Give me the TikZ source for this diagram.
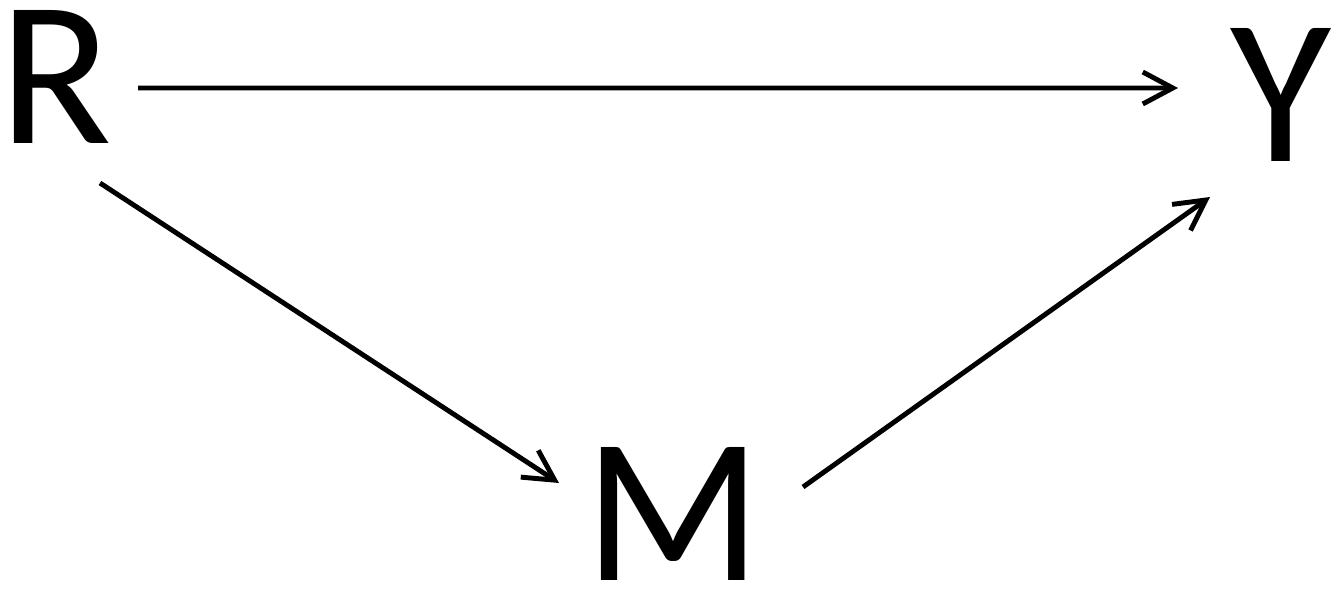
\documentclass[tikz,border=0pt]{standalone}
\usepackage{fontspec}
\setmainfont{Carlito}
\usetikzlibrary{arrows.meta,calc}
\begin{document}
\begin{tikzpicture}[
  lbl/.style={inner sep=0pt, font=\fontsize{59pt}{60pt}\selectfont},
  arr/.style={line width=1.4pt, -{Straight Barb[length=3mm,width=3.2mm,line width=1.4pt]}}
]
\useasboundingbox (0,0) rectangle (13.4,-5.89);
\node[lbl] (R) at (0.56,-0.77) {R};
\node[lbl] (Y) at (12.81,-0.95) {Y};
\node[lbl] (M) at (6.73,-5.14) {M};
\draw[arr] ($(R.center)+(0.82,-0.11)$) -- ($(Y.center)+(-1.03,0.07)$);
\draw[arr] ($(R.center)+(0.44,-1.06)$) -- ($(M.center)+(-1.14,0.31)$);
\draw[arr] ($(M.center)+(1.30,0.27)$) -- ($(Y.center)+(-0.71,-1.02)$);
\end{tikzpicture}
\end{document}
